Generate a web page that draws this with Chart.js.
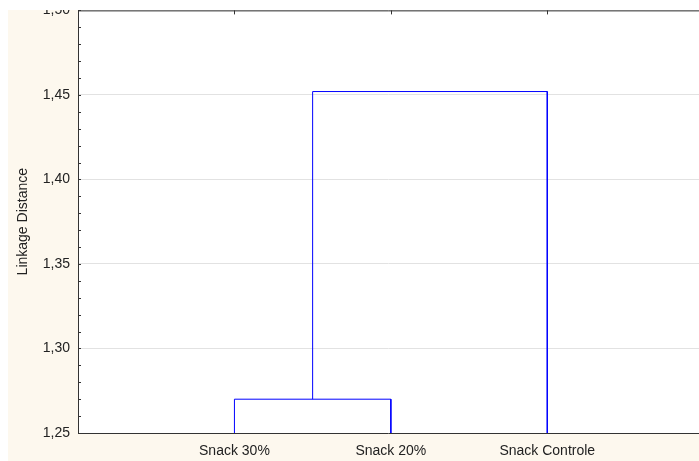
<!DOCTYPE html>
<html>
<head>
<meta charset="utf-8">
<script src="https://cdn.jsdelivr.net/npm/chart.js@4.4.1/dist/chart.umd.min.js"></script>
<style>
  html, body { margin: 0; padding: 0; background: #fff; overflow: hidden; }
  #wrap { position: absolute; left: 0; top: -6px; width: 699px; height: 467px; }
</style>
</head>
<body>
<div id="wrap"><canvas id="c" width="699" height="467"></canvas></div>
<script>
// dendrograma - distancia de ligacao
const categories = ['Snack 30%', 'Snack 20%', 'Snack Controle']
const leafPos = [1, 2, 3]
const mergeHeights = [1.27, 1.452]
const yTicks = [1.25, 1.30, 1.35, 1.40, 1.45, 1.50]
const base = 1.25
const deslocY = 6 // canvas sobe 6px

// caminhos do dendrograma
const mid1 = (leafPos[0] + leafPos[1]) / 2
const link1 = [
  { x: leafPos[0], y: base },
  { x: leafPos[0], y: mergeHeights[0] },
  { x: leafPos[1], y: mergeHeights[0] },
  { x: leafPos[1], y: base }
]
const link2 = [
  { x: mid1, y: mergeHeights[0] },
  { x: mid1, y: mergeHeights[1] },
  { x: leafPos[2], y: mergeHeights[1] },
  { x: leafPos[2], y: base }
]

const moldura = {
  id: 'moldura',
  beforeDraw(chart) {
    const c = chart.ctx
    c.save()
    c.fillStyle = '#fdf8ee'
    c.fillRect(8, 10 + deslocY, 691, 451)
    c.fillStyle = '#fff'
    const a = chart.chartArea
    c.fillRect(a.left, a.top, a.right - a.left, a.bottom - a.top)
    c.restore()
  },
  afterDraw(chart) {
    const c = chart.ctx
    const a = chart.chartArea
    const ys = chart.scales.y
    const xs = chart.scales.x
    c.save()
    c.strokeStyle = '#333'
    c.lineWidth = 1
    // ticks menores
    c.beginPath()
    for (let v = 125; v <= 150; v++) {
      const py = Math.round(ys.getPixelForValue(v / 100)) + 0.5
      c.moveTo(a.left, py)
      c.lineTo(a.left + 3, py)
    }
    leafPos.forEach(p => {
      const px = Math.round(xs.getPixelForValue(p)) + 0.5
      c.moveTo(px, a.top)
      c.lineTo(px, a.top + 4)
    })
    c.stroke()
    c.beginPath()
    c.moveTo(a.left + 0.5, a.bottom)
    c.lineTo(a.left + 0.5, a.top + 0.5)
    c.lineTo(699, a.top + 0.5)
    c.moveTo(a.left, a.bottom + 0.5)
    c.lineTo(699, a.bottom + 0.5)
    c.stroke()
    c.fillStyle = '#fff'
    c.fillRect(0, 0, 699, 10 + deslocY)
    c.restore()
  }
}

new Chart(document.getElementById('c'), {
  type: 'scatter',
  data: {
    datasets: [
      { data: link1, showLine: true, borderColor: '#0000ff', borderWidth: 1, pointRadius: 0, tension: 0 },
      { data: link2, showLine: true, borderColor: '#0000ff', borderWidth: 1, pointRadius: 0, tension: 0 }
    ]
  },
  options: {
    responsive: false,
    animation: false,
    layout: { padding: { left: 8, top: 0, right: 0, bottom: 0 } },
    plugins: { legend: { display: false }, tooltip: { enabled: false } },
    scales: {
      x: {
        type: 'linear',
        min: 0,
        max: 3.97,
        afterBuildTicks: s => { s.ticks = leafPos.map(v => ({ value: v })) },
        afterFit: s => { s.height = 28 },
        grid: { display: false, drawTicks: false },
        border: { display: false },
        ticks: {
          padding: 10,
          color: '#222',
          font: { family: 'Liberation Sans, Arial', size: 14 },
          callback: v => categories[leafPos.indexOf(v)] || ''
        }
      },
      y: {
        min: 1.25,
        max: 1.50,
        afterBuildTicks: s => { s.ticks = yTicks.map(v => ({ value: v })) },
        afterFit: s => { s.width = 70 },
        grid: { color: '#e2e2e2', drawTicks: false },
        border: { display: false },
        title: {
          display: true,
          text: 'Linkage Distance',
          color: '#222',
          padding: { top: 7, bottom: 4 },
          font: { family: 'Liberation Sans, Arial', size: 14 }
        },
        ticks: {
          padding: 8,
          color: '#222',
          font: { family: 'Liberation Sans, Arial', size: 14 },
          callback: v => v.toFixed(2).replace('.', ',')
        }
      }
    }
  },
  plugins: [moldura]
})
</script>
</body>
</html>
